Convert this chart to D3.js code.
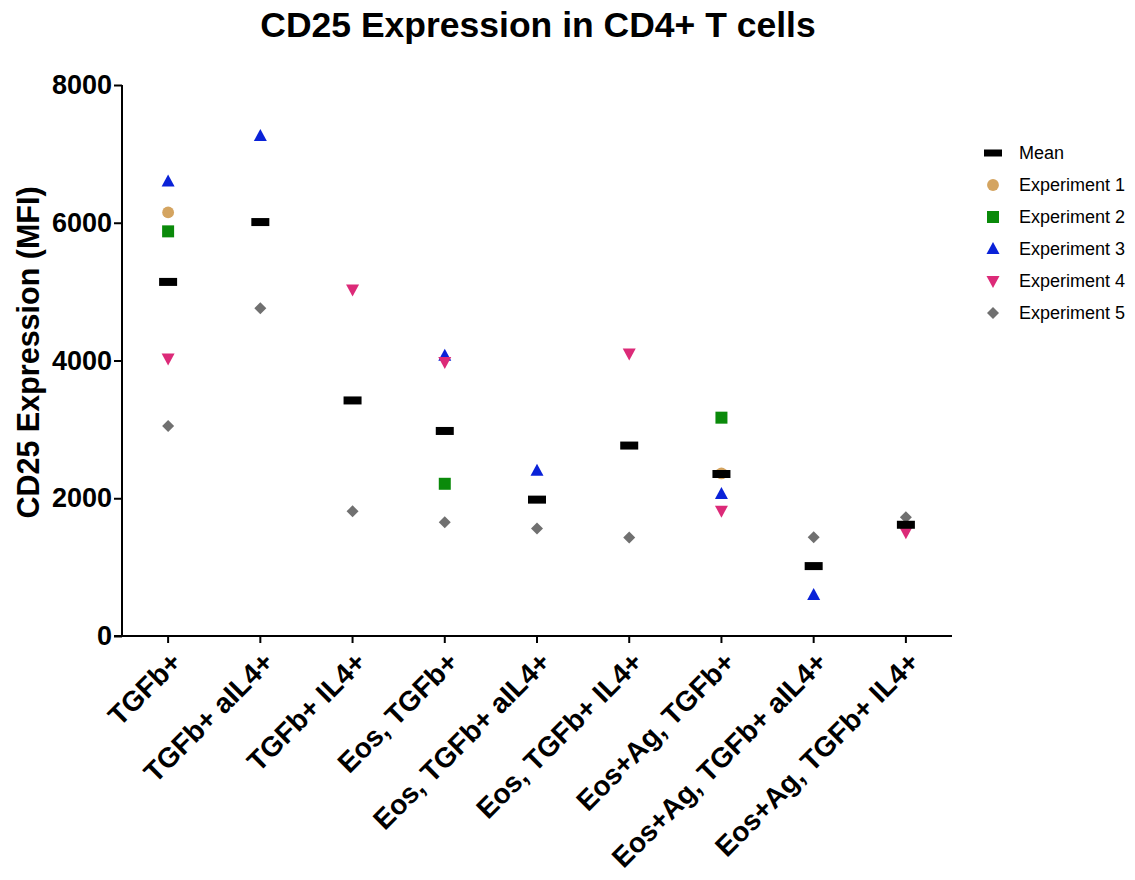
<!DOCTYPE html>
<html>
<head>
<meta charset="utf-8">
<script src="https://cdn.jsdelivr.net/npm/d3@7"></script>
<style>
  html, body { margin: 0; padding: 0; background: #fff; }
  svg { display: block; font-family: "Liberation Sans", Arial, Helvetica, sans-serif; }
</style>
</head>
<body>
<svg id="chart" width="1135" height="880"></svg>
<script>
// Treatment groups along the x axis
const categories = [
  "TGFb+", "TGFb+ aIL4+", "TGFb+ IL4+", "Eos, TGFb+", "Eos, TGFb+ aIL4+",
  "Eos, TGFb+ IL4+", "Eos+Ag, TGFb+", "Eos+Ag, TGFb+ aIL4+", "Eos+Ag, TGFb+ IL4+"
];

// CD25 MFI per experiment (null = not measured)
const experiment1 = [6150, null, null, null, null, null, 2360, null, null];
const experiment2 = [5875, null, null, 2210, null, null, 3170, null, null];
const experiment3 = [6600, 7260, null, 4070, 2400, null, 2060, 595, null];
const experiment4 = [4030, null, 5030, 3980, null, 4100, 1820, null, 1505];
const experiment5 = [3050, 4760, 1810, 1650, 1560, 1430, null, 1435, 1725];

// Group means
const means = [5141, 6010, 3420, 2977, 1980, 2765, 2352, 1015, 1615];

const yTicks = [0, 2000, 4000, 6000, 8000];

const seriesNames = ["Experiment 1", "Experiment 2", "Experiment 3", "Experiment 4", "Experiment 5"];
const seriesValues = [experiment1, experiment2, experiment3, experiment4, experiment5];
const seriesColors = ["#d4a460", "#0a8a0a", "#0a22d8", "#dc2a78", "#707070"];
const seriesShapes = ["circle", "square", "up", "down", "diamond"];

const svg = d3.select("#chart");
const margin = { left: 122, right: 183, top: 85, bottom: 244 };
const W = 1135, H = 880;

const x = d3.scaleBand()
  .domain(categories)
  .range([margin.left, W - margin.right])
  .paddingInner(0).paddingOuter(0);

const y = d3.scaleLinear()
  .domain([0, 8000])
  .range([H - margin.bottom, margin.top]);

// Title
svg.append("text")
  .attr("x", 538).attr("y", 37)
  .attr("text-anchor", "middle")
  .attr("font-size", 35.5).attr("font-weight", "bold")
  .text("CD25 Expression in CD4+ T cells");

// Y axis
const yAxis = svg.append("g")
  .attr("transform", `translate(${margin.left},0)`)
  .call(d3.axisLeft(y).tickValues(yTicks).tickSize(8).tickPadding(2).tickFormat(d3.format("d")));
yAxis.select(".domain").attr("stroke-width", 2).attr("d", `M0,${y(8000)}V${y(0)}`);
yAxis.selectAll(".tick line").attr("stroke-width", 2);
yAxis.selectAll(".tick text")
  .attr("font-size", 27).attr("font-weight", "bold")
  .attr("font-family", "Liberation Sans, Arial, sans-serif").attr("fill", "#000");

// X axis
const xAxis = svg.append("g")
  .attr("transform", `translate(0,${y(0)})`)
  .call(d3.axisBottom(x).tickSize(7).tickSizeOuter(0));
xAxis.select(".domain").attr("stroke-width", 2)
  .attr("d", `M${margin.left - 8},0H${W - margin.right}`);
xAxis.selectAll(".tick line").attr("stroke-width", 2);
xAxis.selectAll(".tick text")
  .attr("font-size", 28).attr("font-weight", "bold")
  .attr("font-family", "Liberation Sans, Arial, sans-serif").attr("fill", "#000")
  .attr("text-anchor", "end")
  .attr("dy", null).attr("y", null)
  .attr("transform", "translate(15,28) rotate(-45)");

// Y axis title
svg.append("text")
  .attr("transform", `translate(39,${(y(0) + y(8000)) / 2 - 8}) rotate(-90)`)
  .attr("text-anchor", "middle")
  .attr("font-size", 30.5).attr("font-weight", "bold")
  .text("CD25 Expression (MFI)");

// Symbol generator
function symbolPath(shape) {
  switch (shape) {
    case "circle": return d3.symbol(d3.symbolCircle, 110)();
    case "square": return "M-6,-6H6V6H-6Z";
    case "up": return "M0,-7L6.5,5H-6.5Z";
    case "down": return "M0,7L6.5,-5H-6.5Z";
    case "diamond": return "M0,-6L6,0L0,6L-6,0Z";
  }
}

const cx = c => x(c) + x.bandwidth() / 2;

// Data points per experiment
seriesValues.forEach((vals, i) => {
  const pts = categories.map((c, j) => ({ c, v: vals[j] })).filter(d => d.v != null);
  svg.append("g").selectAll("path")
    .data(pts).join("path")
    .attr("transform", d => `translate(${cx(d.c)},${y(d.v)})`)
    .attr("d", symbolPath(seriesShapes[i]))
    .attr("fill", seriesColors[i]);
});

// Mean bars
svg.append("g").selectAll("rect")
  .data(categories.map((c, j) => ({ c, v: means[j] })))
  .join("rect")
  .attr("x", d => cx(d.c) - 9)
  .attr("y", d => y(d.v) - 4)
  .attr("width", 18).attr("height", 8)
  .attr("fill", "#000");

// Legend
const legend = svg.append("g").attr("transform", "translate(993,153)");
const legendItems = [{ name: "Mean", shape: "mean", color: "#000" }]
  .concat(seriesNames.map((n, i) => ({ name: n, shape: seriesShapes[i], color: seriesColors[i] })));
legendItems.forEach((d, i) => {
  const g = legend.append("g").attr("transform", `translate(0,${i * 32})`);
  if (d.shape === "mean") {
    g.append("rect").attr("x", -9).attr("y", -3.5).attr("width", 18).attr("height", 7).attr("fill", "#000");
  } else {
    g.append("path").attr("d", symbolPath(d.shape)).attr("fill", d.color);
  }
  g.append("text").attr("x", 26).attr("y", 6)
    .attr("font-size", 18).attr("fill", "#000")
    .text(d.name);
});
</script>
</body>
</html>
